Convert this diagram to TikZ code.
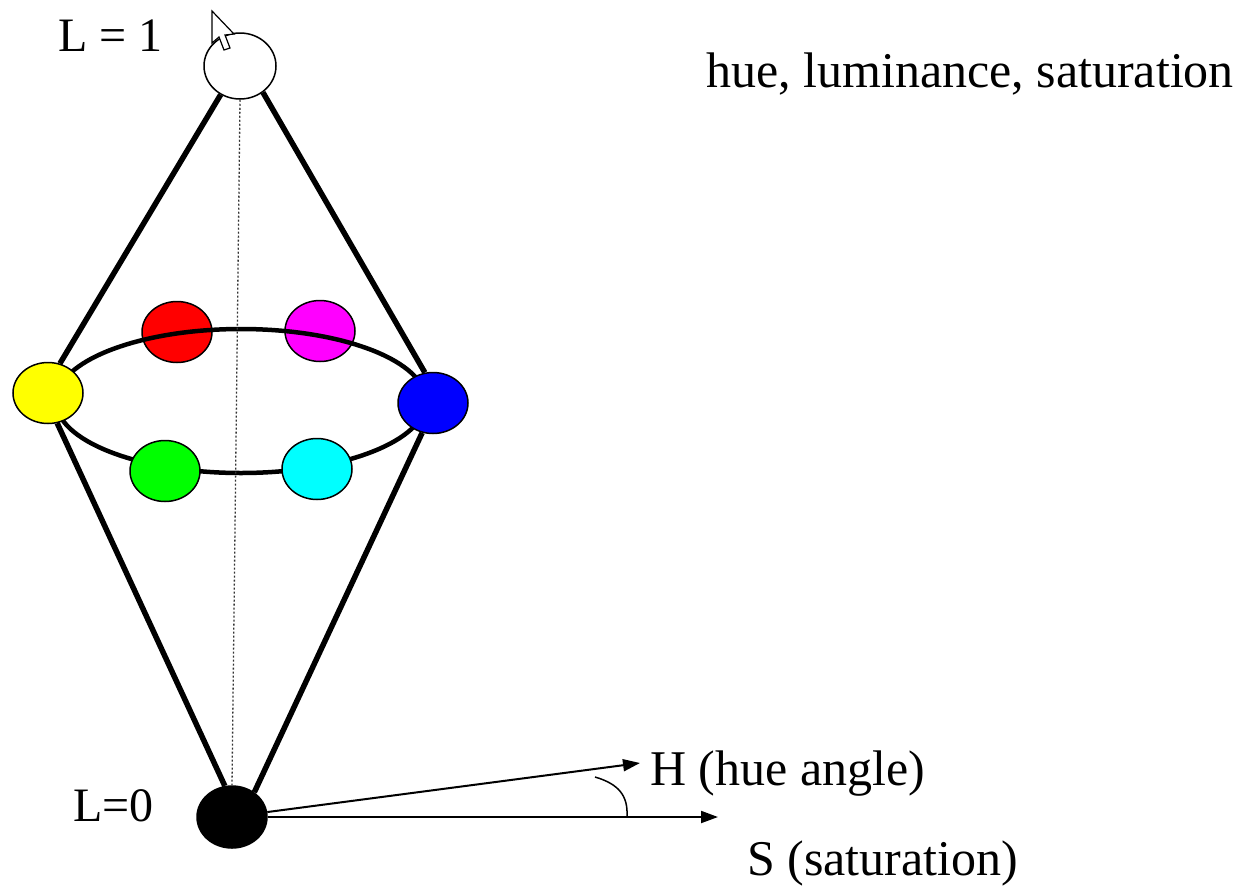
\documentclass[tikz,border=0pt]{standalone}
\usepackage{fontspec}
\setmainfont{Liberation Serif}
\usetikzlibrary{shapes.geometric,arrows.meta}
\definecolor{cRed}{RGB}{255,0,0}
\definecolor{cMag}{RGB}{255,0,255}
\definecolor{cYel}{RGB}{255,255,0}
\definecolor{cBlue}{RGB}{0,0,255}
\definecolor{cGreen}{RGB}{0,255,0}
\definecolor{cCyan}{RGB}{0,255,255}
\begin{document}
\begin{tikzpicture}[x=1pt,y=-1pt,
  ball/.style={ellipse,draw=black,line width=1.5pt,inner sep=0pt,minimum width=70pt,minimum height=61pt},
  cone/.style={line width=5.5pt},
  ringline/.style={line width=4.5pt},
  arr/.style={line width=2pt,-{Triangle[length=17pt,width=12pt]}},
  lbl/.style={inner sep=0pt,anchor=base west,font=\fontsize{50}{60}\selectfont},
  lbls/.style={inner sep=0pt,anchor=base west,font=\fontsize{48}{58}\selectfont}]
\useasboundingbox[fill=white] (0,0) rectangle (1249,889);

% back circles (ring passes over them)
\node[ball,fill=cRed] (red) at (177,332) {};
\node[ball,fill=cMag] (magenta) at (320,331) {};

% hue ring
\draw[ringline] (241,401) ellipse [x radius=185, y radius=72];

% front circles
\node[ball,fill=cYel] (yellow) at (48,393) {};
\node[ball,fill=cBlue] (blue) at (433,403) {};
\node[ball,fill=cGreen] (green) at (165,471) {};
\node[ball,fill=cCyan] (cyan) at (317,469) {};
\node[ball,fill=white,minimum width=72pt,minimum height=66pt] (white) at (240,66) {};
\node[ball,fill=black,minimum height=62pt] (black) at (232,817) {};

% axis
\draw[line width=1.3pt,dash pattern=on 2pt off 2pt,black!80] (white.south) -- (black.north);

% cone
\draw[cone] (white.236) -- (yellow.68);
\draw[cone] (white.-49) -- (blue.105);
\draw[cone] (yellow.-73) -- (black.103);
\draw[cone] (blue.250) -- (black.48);

% H and S arrows
\coordinate (Hend) at (640,763);
\coordinate (Send) at (718,817);
\draw[arr] (black.8) -- (Hend);
\draw[arr] (black.east) -- (Send);
\coordinate (arcA) at (595,777);
\coordinate (arcB) at (627,816);
\draw[line width=1.5pt] (arcA) .. controls (619,784) and (628,796) .. (arcB);

% mouse cursor
\draw[fill=white,line width=1.2pt,line join=miter]
  (212,11) -- (212,43) -- (219,37) -- (224,50) -- (230,48) -- (225,35) -- (234,34) -- cycle;

% labels
\node[lbls] (L1) at (58,51) {L = 1};
\node[lbls] (L0) at (73,821) {L=0};
\node[lbl] (title) at (706,87) {hue, luminance, saturation};
\node[lbl] (Hlbl) at (650,785) {H (hue angle)};
\node[lbl] (Slbl) at (747,875) {S (saturation)};
\end{tikzpicture}
\end{document}
